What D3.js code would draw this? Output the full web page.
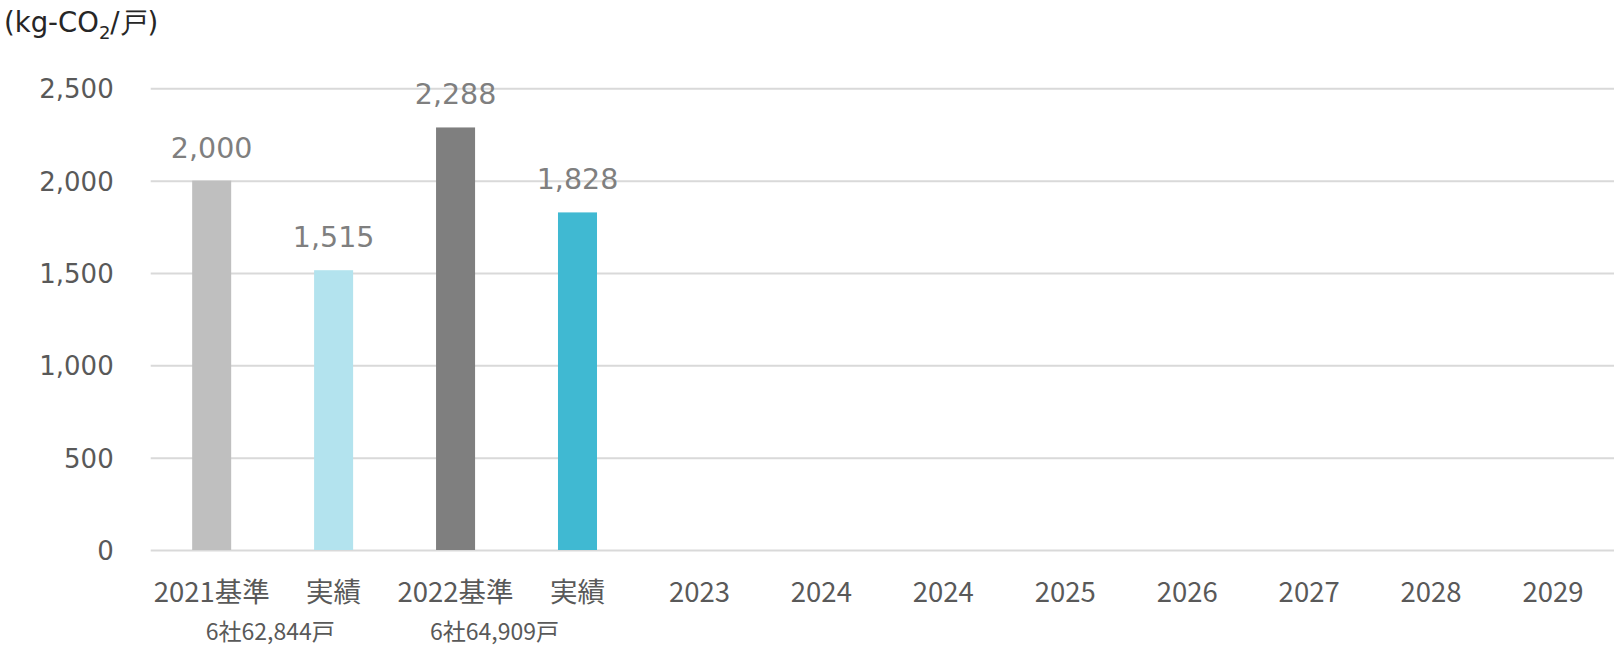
<!DOCTYPE html>
<html>
<head>
<meta charset="utf-8">
<script src="https://cdn.jsdelivr.net/npm/d3@7"></script>
<style>
  body { margin: 0; background: #fff; }
  svg { display: block; }
</style>
</head>
<body>
<div id="chart"></div>
<script>
// chart values
const categories = ['2021基準', '実績', '2022基準', '実績', '2023', '2024', '2024', '2025', '2026', '2027', '2028', '2029'];
const values = [2000, 1515, 2288, 1828, null, null, null, null, null, null, null, null];
const barColors = ['#bfbfbf', '#b3e3ee', '#7f7f7f', '#40b9d2'];
const yTicks = [0, 500, 1000, 1500, 2000, 2500];
const notes = ['6社62,844戸', '6社64,909戸'];
const notePos = [0.48, 2.32]; // in category units
const yTitle = ['(kg-CO', '2', '/戸)'];

const width = 1614, height = 648;
const margin = { top: 88.3, right: 0, bottom: 98, left: 150.7 };

const svg = d3.select('#chart').append('svg')
    .attr('width', width)
    .attr('height', height);

const x = d3.scaleBand()
    .domain(d3.range(categories.length))
    .range([margin.left, width - margin.right])
    .paddingInner(0.68)
    .paddingOuter(0.34);

const y = d3.scaleLinear()
    .domain([0, 2500])
    .range([height - margin.bottom, margin.top]);

// gridlines + y tick labels
const yAxis = svg.append('g')
    .attr('transform', 'translate(' + margin.left + ',0)')
    .call(d3.axisLeft(y)
        .tickValues(yTicks)
        .tickSize(-(width - margin.left - margin.right))
        .tickPadding(37)
        .tickFormat(d3.format(',')));
yAxis.select('.domain').remove();
yAxis.selectAll('line')
    .attr('stroke', '#d9d9d9')
    .attr('stroke-width', 2);
yAxis.selectAll('text')
    .attr('fill', '#595959')
    .attr('dy', '0.36em')
    .style('font-family', '"DejaVu Sans", Verdana, sans-serif')
    .style('font-size', '26px');

// bars
svg.append('g')
    .selectAll('rect')
    .data(values.map((v, i) => ({ v: v, i: i })).filter(d => d.v != null))
    .enter().append('rect')
        .attr('x', d => x(d.i))
        .attr('width', x.bandwidth())
        .attr('y', d => y(d.v))
        .attr('height', d => y(0) - y(d.v))
        .attr('fill', d => barColors[d.i]);

// value labels
svg.append('g')
    .selectAll('text')
    .data(values.map((v, i) => ({ v: v, i: i })).filter(d => d.v != null))
    .enter().append('text')
        .attr('x', d => x(d.i) + x.bandwidth() / 2)
        .attr('y', d => y(d.v) - 23)
        .attr('text-anchor', 'middle')
        .attr('fill', '#7f7f7f')
        .style('font-family', '"DejaVu Sans", Verdana, sans-serif')
        .style('font-size', '28.5px')
        .text(d => d3.format(',')(d.v));

// category labels
const xAxis = svg.append('g')
    .attr('transform', 'translate(0,' + y(0) + ')')
    .call(d3.axisBottom(x)
        .tickSize(0)
        .tickFormat(i => categories[i]));
xAxis.select('.domain').remove();
xAxis.selectAll('text')
    .attr('y', 52)
    .attr('dy', 0)
    .attr('fill', '#595959')
    .style('font-family', '"Noto Sans CJK JP", sans-serif')
    .style('font-size', '27.5px');

// household notes under the base-year groups
svg.append('g')
    .selectAll('text')
    .data(notes)
    .enter().append('text')
        .attr('x', (d, i) => margin.left + x.step() * (notePos[i] + 0.5))
        .attr('y', 640)
        .attr('text-anchor', 'middle')
        .attr('fill', '#595959')
        .style('font-family', '"Noto Sans CJK JP", sans-serif')
        .style('font-size', '23px')
        .text(d => d);

// unit title
const title = svg.append('text')
    .attr('x', 4)
    .attr('y', 32)
    .attr('fill', '#262626')
    .style('font-family', '"DejaVu Sans", Verdana, sans-serif')
    .style('font-size', '27.5px');
title.append('tspan').text(yTitle[0]);
title.append('tspan').attr('dy', 7).style('font-size', '18px').text(yTitle[1]);
title.append('tspan').attr('dy', -7).text(yTitle[2]);
</script>
</body>
</html>
